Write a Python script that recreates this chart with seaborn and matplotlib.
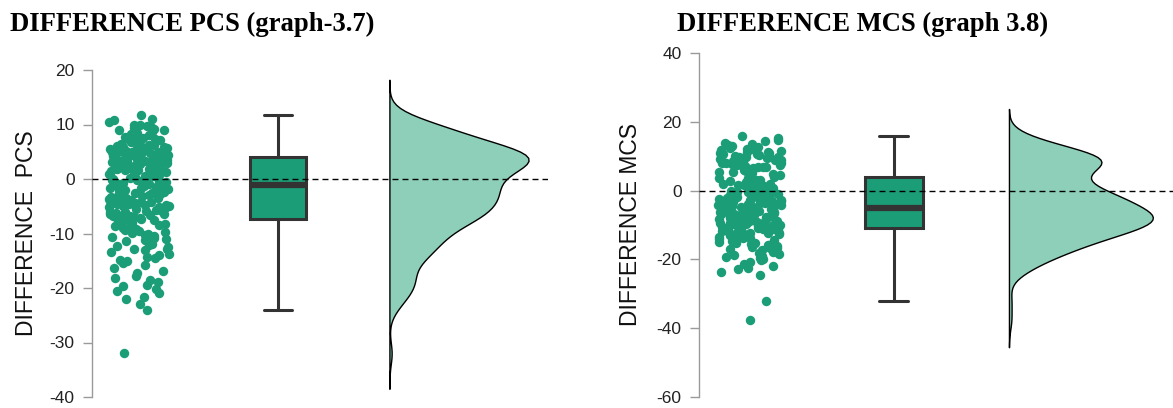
import numpy as np
import pandas as pd
import matplotlib
matplotlib.use("Agg")
import matplotlib.pyplot as plt
import seaborn as sns

# ---------------- data ----------------
pcs_diff = [
    # upper quarter
    4.2, 4.2, 4.3, 4.3, 4.4, 4.5, 4.5, 4.6, 4.7, 4.8, 4.8, 4.9, 4.9,
    5.0, 5.1, 5.2, 5.2, 5.3, 5.4, 5.5, 5.6, 5.7, 5.8, 5.9, 5.9,
    6.0, 6.1, 6.2, 6.3, 6.4, 6.5, 6.6, 6.7, 6.8, 6.9,
    7.1, 7.3, 7.4, 7.6, 7.7, 7.9, 7.5,
    8.1, 8.3, 8.5, 8.6, 8.8, 8.9,
    9.0, 9.2, 9.3, 9.5, 9.7, 9.9,
    10.0, 10.4, 10.9, 11.1, 11.7, 9.6,
    # second quarter
    3.0, 3.1, 3.2, 3.3, 3.3, 3.4, 3.5, 3.5, 3.6, 3.7, 3.7, 3.8, 3.8, 3.9, 4.0, 4.1,
    2.0, 2.1, 2.2, 2.3, 2.4, 2.4, 2.5, 2.6, 2.7, 2.8, 2.8, 2.9, 2.9,
    1.0, 1.1, 1.3, 1.4, 1.5, 1.6, 1.7, 1.7, 1.8, 1.9, 1.9,
    0.0, 0.1, 0.2, 0.4, 0.5, 0.6, 0.7, 0.8, 0.9, 0.9,
    -0.1, -0.2, -0.3, -0.4, -0.5, -0.6, -0.7, -0.8, -0.9, -1.0,
    # third quarter
    -1.1, -1.2, -1.3, -1.4, -1.5, -1.6, -1.7, -1.8, -1.9, -2.0,
    -2.1, -2.2, -2.3, -2.4, -2.5, -2.6, -2.7, -2.8, -2.9, -3.0,
    -3.1, -3.2, -3.3, -3.4, -3.5, -3.6, -3.7, -3.8, -3.9, -4.0,
    -4.1, -4.2, -4.3, -4.4, -4.5, -4.6, -4.7, -4.8, -4.9, -5.0,
    -5.1, -5.2, -5.3, -5.5, -5.6, -5.7, -5.8, -5.9, -6.0,
    -6.1, -6.2, -6.3, -6.4, -6.5, -6.6, -6.7, -6.8, -6.9, -7.0, -7.2,
    # lower quarter
    -7.4, -7.5, -7.6, -7.7, -7.8, -7.9, -8.0, -8.2, -8.3, -8.5, -8.6, -8.8,
    -9.0, -9.1, -9.3, -9.5, -9.7, -9.9,
    -10.0, -10.2, -10.4, -10.6, -10.8, -11.0, -11.2, -11.4, -11.6, -11.9,
    -12.1, -12.3, -12.5, -12.8, -12.9,
    -13.1, -13.4, -13.7, -14.0, -14.3, -14.5, -14.8, -15.0, -15.4, -15.8,
    -16.3, -16.9, -17.3, -17.8, -18.2, -18.6, -18.9,
    -19.4, -19.7, -20.1, -20.5, -21.0, -21.6,
    -22.1, -22.9, -24.0, -32.0,
]

mcs_diff = [
    # upper quarter
    4.0, 4.4, 4.8,
    5.0, 5.3, 5.5, 5.7, 5.9,
    6.0, 6.2, 6.4, 6.6, 6.8, 6.9,
    7.0, 7.1, 7.3, 7.5, 7.6, 7.8, 7.9,
    8.0, 8.1, 8.3, 8.4, 8.5, 8.6, 8.8, 8.9,
    9.0, 9.1, 9.3, 9.4, 9.5, 9.7, 9.8, 9.9,
    10.0, 10.2, 10.3, 10.5, 10.6, 10.8, 10.9,
    11.1, 11.3, 11.5, 11.7, 11.9,
    12.1, 12.4, 12.6, 12.9,
    13.2, 13.5, 13.9,
    14.3, 14.8, 15.2, 15.8,
    # second quarter
    3.0, 3.2, 3.4, 3.6, 3.8,
    2.0, 2.3, 2.5, 2.7, 2.9,
    1.0, 1.3, 1.5, 1.7, 1.9,
    0.0, 0.2, 0.4, 0.5, 0.7, 0.9,
    -0.1, -0.3, -0.4, -0.6, -0.8, -0.9,
    -1.0, -1.1, -1.3, -1.4, -1.5, -1.6, -1.8, -1.9,
    -2.0, -2.1, -2.3, -2.4, -2.6, -2.7, -2.8, -2.9,
    -3.0, -3.1, -3.2, -3.4, -3.5, -3.6, -3.7, -3.8, -3.9,
    -4.0, -4.1, -4.3, -4.4, -4.5, -4.7, -4.8, -4.9,
    # third quarter
    -5.1, -5.2, -5.3, -5.5, -5.6, -5.7, -5.8, -5.9, -6.0,
    -6.1, -6.2, -6.3, -6.4, -6.5, -6.6, -6.7, -6.8, -6.9, -7.0,
    -7.1, -7.2, -7.3, -7.4, -7.5, -7.5, -7.6, -7.7, -7.8, -7.9, -8.0,
    -8.1, -8.2, -8.3, -8.4, -8.5, -8.5, -8.6, -8.7, -8.8, -8.9, -9.0,
    -9.1, -9.2, -9.3, -9.4, -9.5, -9.6, -9.7, -9.8, -9.9, -10.0,
    -10.1, -10.2, -10.3, -10.4, -10.5, -10.6, -10.7, -10.8, -10.9,
    # lower quarter
    -11.0, -11.1, -11.3, -11.4, -11.6, -11.7, -11.8, -11.9,
    -12.0, -12.2, -12.3, -12.4, -12.6, -12.7, -12.8, -12.9,
    -13.0, -13.2, -13.4, -13.5, -13.7, -13.8, -13.9,
    -14.1, -14.3, -14.4, -14.6, -14.8, -14.9,
    -15.1, -15.3, -15.5, -15.7, -15.9,
    -16.1, -16.3, -16.6, -16.8, -16.9,
    -17.2, -17.5, -17.7, -17.9,
    -18.1, -18.4, -18.6, -18.9,
    -19.2, -19.5, -19.8,
    -20.3, -20.7, -21.2, -21.8, -22.4, -22.9, -23.6, -24.5,
    -32.0, -37.6,
]

titles = ["DIFFERENCE PCS (graph-3.7)", "DIFFERENCE MCS (graph 3.8)"]
ylabels = ["DIFFERENCE  PCS", "DIFFERENCE MCS"]
yticks = [[-40, -30, -20, -10, 0, 10, 20], [-60, -40, -20, 0, 20, 40]]

# ---------------- style ----------------
sns.set_theme(style="white")
plt.rcParams["font.family"] = ["Liberation Sans", "DejaVu Sans"]

POINT_C = "#1b9e77"
VIOLIN_C = "#8ecfb9"
EDGE_C = "#333333"
SPINE_C = "#9a9a9a"

W, H = 1173, 408
fig = plt.figure(figsize=(W / 100, H / 100), dpi=100)

# axes rectangles in pixels: (left, top, right, bottom)
rects = [(92, 70, 548, 397), (699, 53, 1173, 397)]
xlims = [(-0.338, 2.94), (-0.354, 2.94)]
title_x = [10, 677]
label_x = [38, 642]
bw_adj = [0.72, 0.85]
cuts = [3.3, 2.8]

STRIP_POS, BOX_POS = 0.0, 1.0
VIOLIN_POS, VIOLIN_W = 2.3, 1.0   # half violin drawn from 1.8 to 2.8

for i, vals in enumerate([pcs_diff, mcs_diff]):
    l, t, r, b = rects[i]
    ax = fig.add_axes([l / W, (H - b) / H, (r - l) / W, (b - t) / H])
    vals = np.asarray(vals, dtype=float)
    n = len(vals)
    df = pd.DataFrame({"value": vals, "grp": ["b"] * n})

    np.random.seed(7 + i)
    sns.stripplot(x=np.full(n, STRIP_POS), y=df["value"], native_scale=True,
                  orient="x", jitter=0.22, size=6.8, color=POINT_C,
                  linewidth=0, ax=ax, zorder=2)
    sns.boxplot(x=np.full(n, BOX_POS), y=df["value"], native_scale=True,
                orient="x", width=0.4, color=POINT_C, saturation=1,
                showfliers=False, linecolor=EDGE_C, linewidth=2.2,
                medianprops={"linewidth": 4.5, "color": EDGE_C}, ax=ax)
    sns.violinplot(x=np.full(n, VIOLIN_POS), y=df["value"], hue=df["grp"],
                   hue_order=["a", "b"], palette={"a": VIOLIN_C, "b": VIOLIN_C},
                   split=True, dodge=False, inner=None, cut=cuts[i],
                   bw_adjust=bw_adj[i], density_norm="width", width=VIOLIN_W,
                   native_scale=True, orient="x", linecolor="black",
                   linewidth=1.0, saturation=1, legend=False, ax=ax)

    ax.axhline(0, color="black", lw=1, dashes=(4.3, 2.9), zorder=10)

    ax.set_xlim(*xlims[i])
    ax.set_ylim(yticks[i][0], yticks[i][-1])
    ax.set_xticks([])
    ax.set_xlabel("")
    ax.set_yticks(yticks[i])
    ax.set_yticklabels([str(v) for v in yticks[i]])
    ax.tick_params(axis="y", length=6.5, width=1, color=SPINE_C,
                   labelsize=12.5, labelcolor="#222222", pad=6, left=True)
    sns.despine(ax=ax, bottom=True)
    ax.spines["left"].set_color(SPINE_C)
    ax.spines["left"].set_linewidth(1)
    ax.set_ylabel(ylabels[i], fontsize=16.5, color="#111111")
    ax.yaxis.set_label_coords((label_x[i] - l) / (r - l), 0.5)
    ax.set_facecolor("none")

    fig.text(title_x[i] / W, 1 - 31 / H, titles[i],
             family=["Liberation Serif", "DejaVu Serif"], fontweight="bold",
             fontsize=19.2, ha="left", va="baseline", color="black")

fig.savefig("out.png", dpi=100)
